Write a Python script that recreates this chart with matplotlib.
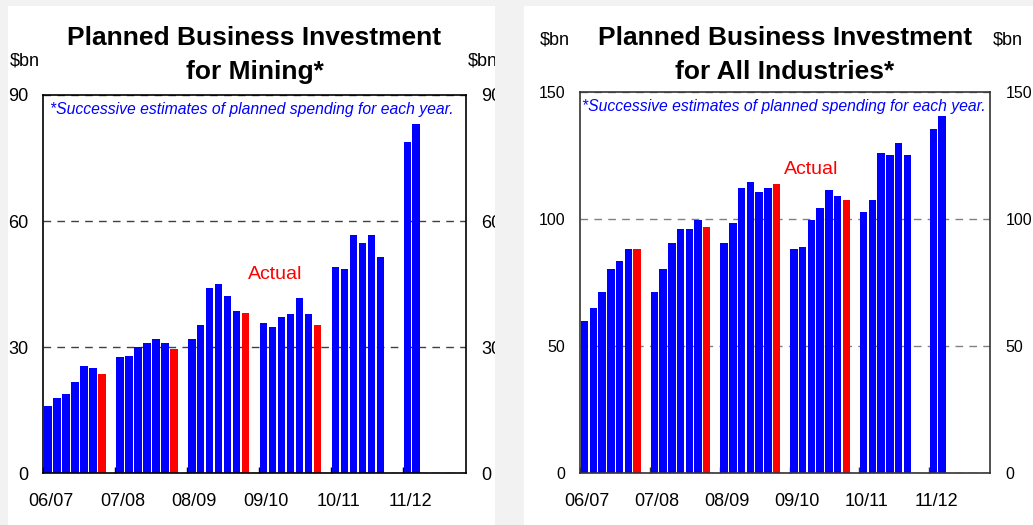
import numpy as np
import matplotlib
matplotlib.use("Agg")
import matplotlib.pyplot as plt
from matplotlib.patches import Rectangle

plt.rcParams['font.family'] = ['Liberation Sans', 'DejaVu Sans']

years = ["06/07", "07/08", "08/09", "09/10", "10/11", "11/12"]

# successive planned-spending estimates per financial year ($bn)
mining_estimates = [
    [15.9, 17.8, 18.8, 21.7, 25.5, 25.0],
    [27.7, 27.9, 30.1, 31.0, 32.0, 31.0],
    [32.0, 35.4, 44.0, 45.0, 42.1, 38.7],
    [35.8, 34.9, 37.3, 37.8, 41.6, 37.8],
    [49.0, 48.6, 56.7, 54.8, 56.7, 51.4],
    [78.8, 83.1],
]
mining_actual = [23.6, 29.6, 38.2, 35.4]

all_estimates = [
    [60.0, 65.1, 71.4, 80.3, 83.4, 88.2],
    [71.4, 80.3, 90.5, 96.1, 96.1, 99.6],
    [90.5, 98.4, 112.2, 114.6, 110.7, 112.2],
    [88.2, 88.9, 99.6, 104.3, 111.4, 109.1],
    [102.8, 107.5, 126.1, 125.3, 130.0, 125.3],
    [135.5, 140.3],
]
all_actual = [88.2, 96.8, 113.8, 107.5]

W, H = 1033, 525
BG = '#f2f2f2'
BLUE = '#0000ff'
RED = '#ff0000'


def px(x, y):
    return x / W, 1 - y / H


fig = plt.figure(figsize=(W / 100, H / 100), dpi=100, facecolor=BG)

# white panels
for x0, x1 in [(8, 495), (524, 1033)]:
    fig.patches.append(Rectangle((x0 / W, 0), (x1 - x0) / W, 1 - 6 / H,
                                 transform=fig.transFigure, facecolor='white',
                                 edgecolor='none', zorder=-1))


def draw_panel(ax, estimates, actual, ymax, grid_color, spine_color,
               actual_pos, note_x, ylab_size):
    slot = 1 / 8
    for gi, est in enumerate(estimates):
        xs = gi + np.arange(len(est)) * slot + 0.01
        ax.bar(xs, est, width=0.107, align='edge', color=BLUE, linewidth=0)
        if gi < len(actual):
            ax.bar(gi + len(est) * slot + 0.01, actual[gi], width=0.107,
                   align='edge', color=RED, linewidth=0)

    ax.set_xlim(0, 47 / 8)
    ax.set_ylim(0, ymax)
    ax.set_yticks(np.linspace(0, ymax, 4))
    ax.set_yticklabels([f"{v:g}" for v in np.linspace(0, ymax, 4)])

    ax.set_xticks(range(6))
    ax.set_xticklabels([])
    ax.set_xticks(np.arange(6) + 0.1, minor=True)
    ax.set_xticklabels(years, minor=True)
    ax.tick_params(axis='x', which='major', direction='in', length=4,
                   width=1, color=spine_color, top=False)
    ax.tick_params(axis='x', which='minor', length=0, pad=14, labelsize=13)
    ax.tick_params(axis='y', which='major', direction='in', length=0,
                   left=True, right=True, labelleft=True, labelright=True,
                   pad=11, labelsize=ylab_size)

    ax.set_axisbelow(True)
    ax.yaxis.grid(True, linestyle=(0, (5.5, 4.5)), color=grid_color, linewidth=1)
    for s in ax.spines.values():
        s.set_color(spine_color)
        s.set_linewidth(1.2)

    ax.text(note_x, 0.962,
            "*Successive estimates of planned spending for each year.",
            transform=ax.transAxes, color=BLUE, style='italic', fontsize=11.3,
            ha='left', va='center')
    ax.text(actual_pos[0], actual_pos[1], "Actual", color=RED, fontsize=14,
            ha='center', va='center')


# Mining
ax1 = fig.add_axes([43.3 / W, 1 - 473.3 / H, 422.4 / W, 378.3 / H])
draw_panel(ax1, mining_estimates, mining_actual, 90, '#404040', 'black',
           (3.22, 47.2), 0.016, 13)

# All industries
ax2 = fig.add_axes([580.3 / W, 1 - 473.3 / H, 409.7 / W, 381.6 / H])
draw_panel(ax2, all_estimates, all_actual, 150, '#808080', '#333333',
           (3.305, 119.5), 0.003, 11.5)

# titles
for cx, lines in [(254.5, ["Planned Business Investment", "for Mining*"]),
                  (785, ["Planned Business Investment", "for All Industries*"])]:
    fig.text(*px(cx, 38), lines[0], ha='center', va='center',
             fontsize=19, fontweight='bold')
    fig.text(*px(cx, 72), lines[1], ha='center', va='center',
             fontsize=19, fontweight='bold')

# units
for x, y in [(10, 61), (468, 61), (540, 40), (993, 40)]:
    fig.text(*px(x, y), "$bn", ha='left', va='center', fontsize=13)

# gap between the two panels hides the overflowing labels
fig.patches.append(Rectangle((495 / W, 0), 29 / W, 1, transform=fig.transFigure,
                             facecolor=BG, edgecolor='none', zorder=10))

fig.savefig("out.png", dpi=100, facecolor=BG)
